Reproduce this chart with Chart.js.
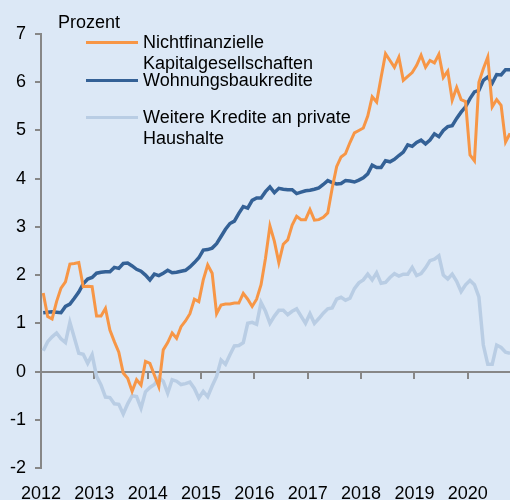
<!DOCTYPE html>
<html>
<head>
<meta charset="utf-8">
<script src="https://cdn.jsdelivr.net/npm/chart.js@4.4.0/dist/chart.umd.min.js"></script>
<style>
  body { margin: 0; background: #dce8f6; }
  #wrap { position: relative; width: 510px; height: 500px; font-family: 'Liberation Sans', Arial, sans-serif; font-size: 18px; color: #000; }
  #grafica { position: absolute; left: 0; top: 0; }
  .txt { position: absolute; line-height: 20.5px; white-space: nowrap; }
  .strich { position: absolute; left: 86px; width: 52px; height: 3px; }
</style>
</head>
<body>
<div id="wrap">
  <canvas id="grafica" width="510" height="500"></canvas>
  <div class="txt" style="left:58px;top:12px">Prozent</div>
  <div id="legende"></div>
</div>
<script>
// Monatswerte Jan 2012 - Okt 2020, Veraenderung gegenueber Vorjahr in Prozent
var startJahr = 2012;
var jahre = ['2012', '2013', '2014', '2015', '2016', '2017', '2018', '2019', '2020'];

var nfk = [
  1.63, 1.14, 1.09, 1.45, 1.73, 1.86, 2.23, 2.24, 2.26, 1.76, 1.77, 1.76,
  1.15, 1.15, 1.31, 0.86, 0.62, 0.40, -0.03, -0.14, -0.41, -0.17, -0.28, 0.21,
  0.17, -0.07, -0.31, 0.45, 0.60, 0.80, 0.69, 0.93, 1.05, 1.20, 1.50, 1.45,
  1.90, 2.21, 2.04, 1.20, 1.38, 1.40, 1.40, 1.42, 1.42, 1.62, 1.50, 1.35,
  1.50, 1.80, 2.35, 3.02, 2.70, 2.26, 2.64, 2.73, 3.04, 3.22, 3.15, 3.15,
  3.36, 3.14, 3.15, 3.20, 3.29, 3.80, 4.25, 4.45, 4.52, 4.75, 4.95, 5.00,
  5.05, 5.30, 5.70, 5.59, 6.10, 6.59, 6.45, 6.31, 6.52, 6.04, 6.12, 6.20,
  6.35, 6.56, 6.31, 6.45, 6.40, 6.58, 6.10, 6.23, 5.63, 5.89, 5.64, 5.60,
  4.49, 4.37, 6.00, 6.28, 6.52, 5.49, 5.64, 5.52, 4.76, 4.94
];

var wohnbau = [
  1.22, 1.23, 1.24, 1.23, 1.22, 1.35, 1.40, 1.52, 1.65, 1.82, 1.92, 1.95,
  2.04, 2.06, 2.07, 2.07, 2.16, 2.14, 2.24, 2.25, 2.19, 2.12, 2.08, 2.00,
  1.90, 2.02, 1.99, 2.04, 2.10, 2.05, 2.06, 2.08, 2.10, 2.17, 2.26, 2.36,
  2.52, 2.53, 2.56, 2.65, 2.80, 2.95, 3.07, 3.12, 3.28, 3.42, 3.39, 3.55,
  3.60, 3.60, 3.73, 3.83, 3.71, 3.80, 3.78, 3.77, 3.77, 3.69, 3.72, 3.75,
  3.76, 3.78, 3.81, 3.88, 3.96, 3.92, 3.89, 3.90, 3.96, 3.95, 3.93, 3.97,
  4.02, 4.10, 4.28, 4.23, 4.23, 4.37, 4.35, 4.40, 4.48, 4.55, 4.70, 4.67,
  4.75, 4.80, 4.72, 4.80, 4.93, 4.87, 5.00, 5.08, 5.10, 5.25, 5.38, 5.49,
  5.66, 5.80, 5.83, 6.04, 6.11, 5.98, 6.16, 6.15, 6.26, 6.26
];

var weitere = [
  0.43, 0.62, 0.72, 0.80, 0.68, 0.60, 1.02, 0.70, 0.38, 0.36, 0.17, 0.35,
  -0.10, -0.28, -0.53, -0.54, -0.67, -0.68, -0.88, -0.67, -0.50, -0.52, -0.76, -0.42,
  -0.33, -0.27, -0.12, -0.20, -0.45, -0.17, -0.20, -0.27, -0.25, -0.22, -0.35, -0.55,
  -0.41, -0.52, -0.30, -0.10, 0.24, 0.15, 0.35, 0.53, 0.54, 0.60, 1.00, 1.02,
  0.98, 1.43, 1.25, 1.00, 1.15, 1.27, 1.27, 1.18, 1.25, 1.30, 1.15, 1.00,
  1.20, 1.00, 1.10, 1.21, 1.30, 1.32, 1.50, 1.54, 1.48, 1.52, 1.72, 1.84,
  1.90, 2.02, 1.90, 2.05, 1.83, 1.85, 1.95, 2.03, 1.98, 2.02, 2.02, 2.16,
  1.99, 2.03, 2.15, 2.30, 2.33, 2.40, 2.00, 1.92, 2.02, 1.87, 1.66, 1.80,
  1.89, 1.80, 1.55, 0.55, 0.15, 0.15, 0.55, 0.50, 0.40, 0.38
];

// Monatsmitte als Dezimaljahr
var monate = [];
for (var i = 0; i < nfk.length; i++) {
  monate.push(startJahr + (i + 0.5) / 12);
}
var xMax = monate[monate.length - 1];

function punkte(werte) {
  var out = [];
  for (var i = 0; i < werte.length; i++) out.push({ x: monate[i], y: werte[i] });
  return out;
}

var grau = '#878787';
Chart.defaults.font.family = "'Liberation Sans', Arial, sans-serif";
Chart.defaults.font.size = 18;
Chart.defaults.color = '#000';

var ctx = document.getElementById('grafica').getContext('2d');
var chart = new Chart(ctx, {
  type: 'line',
  data: {
    datasets: [{
      label: 'Nichtfinanzielle\nKapitalgesellschaften',
      data: punkte(nfk),
      borderColor: '#f79646',
      borderWidth: 3
    }, {
      label: 'Wohnungsbaukredite',
      data: punkte(wohnbau),
      borderColor: '#346196',
      borderWidth: 3.5
    }, {
      label: 'Weitere Kredite an private\nHaushalte',
      data: punkte(weitere),
      borderColor: '#b9cde4',
      borderWidth: 3.5
    }]
  },
  options: {
    responsive: false,
    animation: false,
    devicePixelRatio: 1,
    layout: { padding: { top: 34, right: 0, left: 0, bottom: 0 } },
    elements: { point: { radius: 0 }, line: { tension: 0 } },
    plugins: { legend: { display: false }, tooltip: { enabled: false } },
    scales: {
      x: {
        type: 'linear',
        position: 'bottom',
        min: startJahr,
        max: xMax,
        grid: { display: false },
        border: { display: false },
        ticks: {
          stepSize: 1,
          includeBounds: false,
          autoSkip: false,
          maxRotation: 0,
          padding: 7,
          callback: function(v) { return jahre[Math.round(v - startJahr)]; }
        },
        afterFit: function(s) { s.height = 32; }
      },
      x0: {
        type: 'linear',
        axis: 'x',
        position: { y: 0 },
        min: startJahr,
        max: xMax,
        grid: { drawOnChartArea: false, drawTicks: true, tickLength: 6, color: grau, lineWidth: 2 },
        border: { display: true, color: grau, width: 2 },
        ticks: { stepSize: 1, includeBounds: false, display: false }
      },
      y: {
        min: -2,
        max: 7,
        grid: { drawOnChartArea: false, drawTicks: true, tickLength: 6, color: grau, lineWidth: 2 },
        border: { display: true, color: grau, width: 2 },
        ticks: { stepSize: 1, padding: 9 },
        afterFit: function(s) { s.width = 41; }
      }
    }
  }
});

// Legende als Text neben der Grafik
var legendeY = [42, 80, 117];
var html = '';
chart.data.datasets.forEach(function(ds, k) {
  html += '<div class="strich" style="top:' + (legendeY[k] - 1.5) + 'px;background:' + ds.borderColor + '"></div>';
  html += '<div class="txt" style="left:143px;top:' + (legendeY[k] - 10) + 'px">' + ds.label.split('\n').join('<br>') + '</div>';
});
document.getElementById('legende').innerHTML = html;
</script>
</body>
</html>
